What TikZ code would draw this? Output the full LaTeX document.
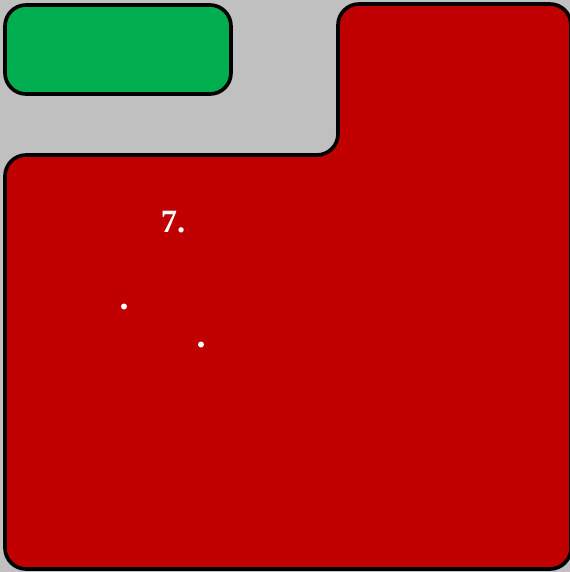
\documentclass[tikz,border=0pt]{standalone}
\usepackage{fontspec}
\setmainfont{Liberation Serif}
\usepackage{xcolor}
\usepackage{tikz}
\definecolor{PLGray}{HTML}{C0C0C0}
\definecolor{PLGreen}{HTML}{00AE50}
\definecolor{PLRed}{HTML}{C00000}
\begin{document}
\begin{tikzpicture}[x=0.02cm,y=-0.02cm]
\path[use as bounding box] (0,0) rectangle (570,572);
\fill[PLGray] (0,0) rectangle (570,572);
\draw[fill=PLGreen,line width=2.1pt,rounded corners=12] (5,5) rectangle (231,94);
\draw[fill=PLRed,line width=2.1pt,rounded corners=12] (5,155) -- (338,155) -- (338,4) -- (571,4) -- (571,569) -- (5,569) -- cycle;
\node[anchor=base,text=white,inner sep=0pt] (num) at (173,232.5) {\fontsize{18.5}{20}\selectfont\bfseries 7.};
\fill[white] (124,306.5) circle (3) coordinate (dotA);
\fill[white] (201,344.5) circle (3) coordinate (dotB);
\end{tikzpicture}
\end{document}
